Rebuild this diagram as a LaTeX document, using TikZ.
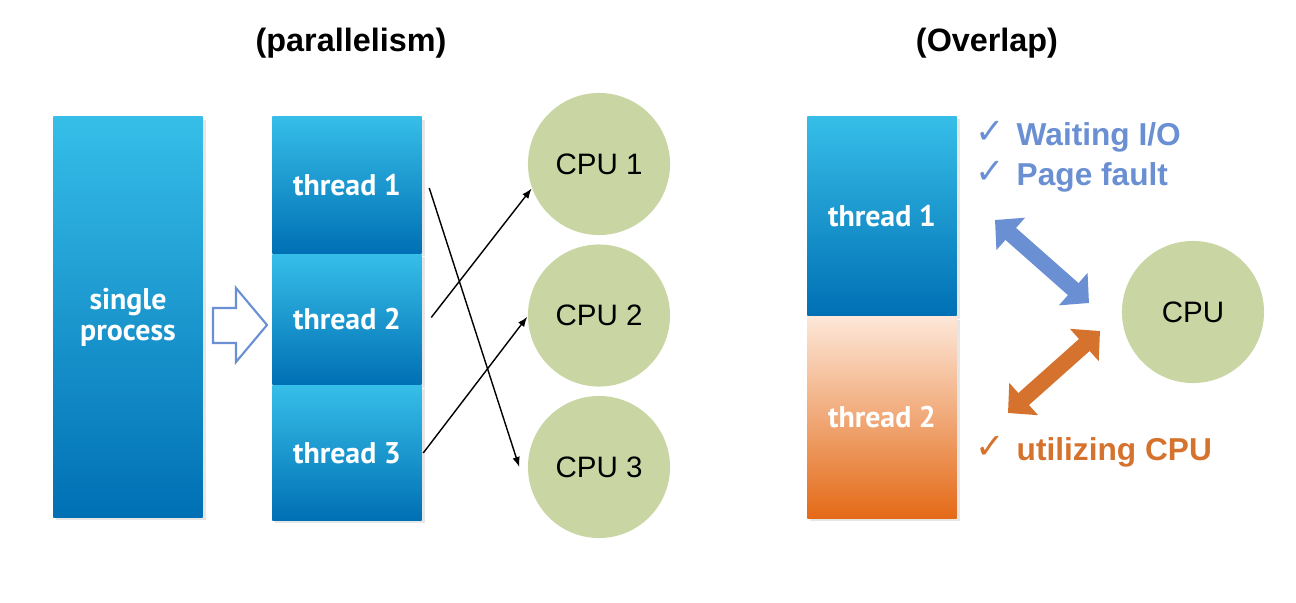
\documentclass[tikz,border=0pt]{standalone}
\usepackage{fontspec}
\setmainfont{Liberation Sans}
\newfontfamily\boxfont{PT Sans}
\newfontfamily\symfont{DejaVu Sans}
\usetikzlibrary{positioning,arrows.meta,shadows}
\definecolor{boxtop}{HTML}{36BEE8}
\definecolor{boxbot}{HTML}{0070B4}
\definecolor{ortop}{HTML}{FDE7D8}
\definecolor{orbot}{HTML}{E46A17}
\definecolor{cpugreen}{HTML}{C9D6A3}
\definecolor{waitblue}{HTML}{6A8FD2}
\definecolor{useorange}{HTML}{D5722E}

\begin{document}
\begin{tikzpicture}[x=0.01cm, y=-0.01cm,
  proc/.style = {rectangle, inner sep=0pt, minimum width=1.49cm, top color=boxtop, bottom color=boxbot, text=white, align=center, font=\boxfont\bfseries\fontsize{8.5}{8.8}\selectfont, drop shadow={shadow xshift=0.03cm, shadow yshift=-0.03cm, opacity=0.2}},
  hot/.style = {proc, top color=ortop, bottom color=orbot},
  cpu/.style = {circle, fill=cpugreen, minimum size=1.42cm, inner sep=0pt, font=\fontsize{8.4}{10}\selectfont},
  link/.style = {-{Latex[length=1mm,width=0.75mm]}, line width=0.4pt},
  swap/.style = {{Triangle[length=2.1mm,width=4.2mm]}-{Triangle[length=2.1mm,width=4.2mm]}, line width=1.6mm},
  title/.style = {font=\bfseries\fontsize{9.2}{11}\selectfont, anchor=base},
  note/.style = {font=\bfseries\fontsize{9}{11}\selectfont, anchor=base west, inner sep=0pt},
  tick/.style = {font=\symfont\fontsize{10}{12}\selectfont, anchor=base west, inner sep=0pt}]
		\useasboundingbox (0,0) rectangle (1296,602);
		\node[title] (par) at (351,51) {(parallelism)};
		\node[title] (ovl) at (987,51) {(Overlap)};
		\node[proc, minimum height=4cm] (sp) at (128,317) {single\\process};
		\node[proc, minimum height=1.36cm] (t1) at (347,185) {thread 1};
		\node[proc, minimum height=1.3cm] (t2) [below=0pt of t1] {thread 2};
		\node[proc, minimum height=1.34cm] (t3) [below=0pt of t2] {thread 3};
		\draw[waitblue, line width=0.6pt, fill=white] (213,308) -- (236,308) -- (236,288) -- (267,325) -- (236,362) -- (236,343) -- (213,343) -- cycle;
		\node[cpu] (c1) at (599,164) {CPU 1};
		\node[cpu] (c2) [below=0.08cm of c1] {CPU 2};
		\node[cpu] (c3) [below=0.08cm of c2] {CPU 3};
		\draw[link] ([shift={(7,3)}]t1.east) -- ([xshift=-0.08cm]c3.west);
		\draw[link] ([shift={(9,-2)}]t2.east) -- (c1.200);
		\draw[link] ([shift={(1,0)}]t3.east) -- (c2.181);
		\node[proc, minimum height=1.99cm] (r1) at (882,216) {thread 1};
		\node[hot, minimum height=2.01cm] (r2) [below=0pt of r1] {thread 2};
		\node[cpu] (cpu) at (1193,312) {CPU};
		\coordinate (b1) at (995,220);
		\coordinate (b2) at (1089,303);
		\coordinate (o1) at (1100,331);
		\coordinate (o2) at (1008,413);
		\draw[swap, waitblue] (b1) -- (b2);
		\draw[swap, useorange] (o1) -- (o2);
		\node[tick, waitblue] (k1) at (975,143) {✓};
		\node[note, waitblue] (wio) at (1016,145) {Waiting I/O};
		\node[tick, waitblue] (k2) at (975,183) {✓};
		\node[note, waitblue] (pf) at (1016,185) {Page fault};
		\node[tick, useorange] (k3) at (975,458) {✓};
		\node[note, useorange] (uc) at (1016,460) {utilizing CPU};
	\end{tikzpicture}
\end{document}
